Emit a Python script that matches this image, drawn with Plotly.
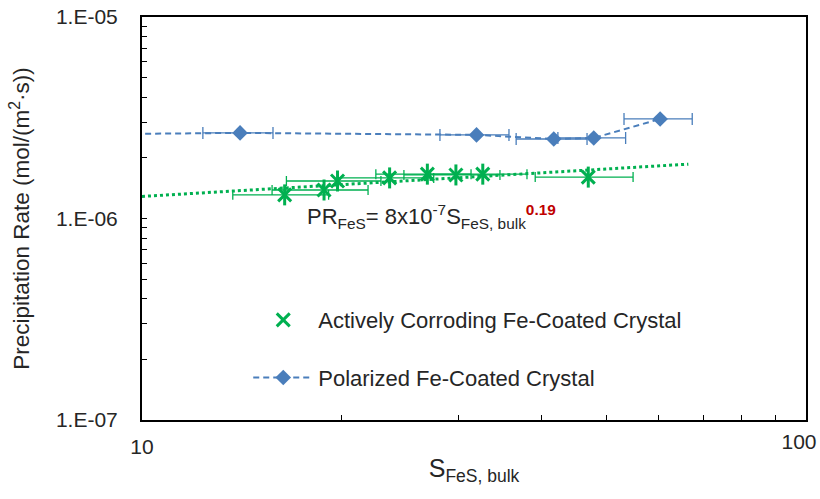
import numpy as np
import plotly.graph_objects as go

# ---- data ----
green_x = [16.4, 18.8, 19.7, 23.6, 26.9, 29.7, 32.6, 47.0]
green_y = [1.31e-6, 1.385e-6, 1.535e-6, 1.59e-6, 1.66e-6, 1.645e-6, 1.66e-6, 1.605e-6]
green_xerr = [2.7, 3.1, 3.2, 3.9, 4.4, 4.9, 5.4, 7.9]

blue_x = [8.5, 14.05, 31.9, 41.7, 47.9, 60.3]
blue_y = [2.62e-6, 2.66e-6, 2.60e-6, 2.48e-6, 2.51e-6, 3.12e-6]
blue_xerr = [1.0, 1.7, 3.8, 5.1, 5.6, 7.1]

trend_range = [10.0, 66.5]

x_tick_vals = [10, 100]
x_tick_text = ["10", "100"]
y_tick_vals = [1e-7, 1e-6, 1e-5]
y_tick_text = ["1.E-07", "1.E-06", "1.E-05"]

green_name = "Actively Corroding Fe-Coated Crystal"
blue_name = "Polarized Fe-Coated Crystal"

GREEN = "#00B050"
BLUE = "#4A7EBB"
FONT = "Liberation Sans, Arial, sans-serif"
TXT = "#262626"

# power-law fit of the green series (log-log least squares)
b, loga = np.polyfit(np.log10(green_x), np.log10(green_y), 1)
tx = np.logspace(np.log10(trend_range[0]), np.log10(trend_range[1]), 60)
ty = 10 ** loga * tx ** b

fig = go.Figure()

# trendline drawn on the overlay x-axis (same range) which carries the right-hand tick label
fig.add_trace(go.Scatter(
    x=tx, y=ty, mode="lines", showlegend=False, hoverinfo="skip", xaxis="x2",
    line=dict(color=GREEN, width=3, dash="dot")))

fig.add_trace(go.Scatter(
    x=blue_x, y=blue_y, mode="lines+markers", name=blue_name, legendgroup="b", legendrank=2,
    line=dict(color=BLUE, width=2, dash="6px,4px"),
    marker=dict(symbol="diamond", size=12, color=BLUE),
    error_x=dict(type="data", array=blue_xerr, color=BLUE, thickness=1.3, width=6)))

fig.add_trace(go.Scatter(
    x=green_x, y=green_y, mode="markers", name=green_name, legendgroup="a", legendrank=1,
    marker=dict(symbol="x-thin-open", size=13, line=dict(color=GREEN, width=3), color=GREEN),
    error_x=dict(type="data", array=green_xerr, color=GREEN, thickness=1.3, width=5)))

fig.add_trace(go.Scatter(
    x=green_x, y=green_y, mode="markers", showlegend=False, hoverinfo="skip",
    marker=dict(symbol="line-ns-open", size=15, color=GREEN, line=dict(color=GREEN, width=3))))

minor_x = [v * 10 for v in range(2, 10)]
minor_y = [v * 1e-7 for v in range(2, 10)] + [v * 1e-6 for v in range(2, 10)]

fig.update_layout(
    xaxis=dict(
        type="log", range=[1, 2], tickvals=x_tick_vals[:1], ticktext=x_tick_text[:1], automargin=False,
        ticks="inside", ticklen=5, tickcolor="black", ticklabelstandoff=7,
        minor=dict(tickvals=minor_x, ticks="inside", ticklen=5, tickcolor="black"),
        showline=True, linecolor="black", linewidth=2, mirror=True, showgrid=False, zeroline=False,
        tickfont=dict(family=FONT, size=21, color=TXT),
        title=dict(text="S<sub>FeS, bulk</sub>", font=dict(family=FONT, size=25, color=TXT), standoff=2)),
    xaxis2=dict(
        type="log", range=[1, 2], overlaying="x", side="bottom", anchor="y", automargin=False,
        tickvals=x_tick_vals[1:], ticktext=x_tick_text[1:], ticks="inside", ticklen=5, tickcolor="black",
        ticklabelstandoff=7, ticklabelshift=-7, showline=False, showgrid=False, zeroline=False,
        tickfont=dict(family=FONT, size=21, color=TXT)),
    yaxis=dict(
        type="log", range=[-7, -5], tickvals=y_tick_vals, ticktext=y_tick_text, automargin=False,
        ticks="inside", ticklen=5, tickcolor="black", ticklabelstandoff=18,
        minor=dict(tickvals=minor_y, ticks="inside", ticklen=5, tickcolor="black"),
        showline=True, linecolor="black", linewidth=2, mirror=True, showgrid=False, zeroline=False,
        tickfont=dict(family=FONT, size=21, color=TXT),
        title=dict(text="Precipitation Rate (mol/(m<sup>2</sup>·s))", font=dict(family=FONT, size=22.5, color=TXT), standoff=20)),
)

fig.add_annotation(
    x=0.245, y=0.505, xref="paper", yref="paper", xanchor="left", yanchor="middle", showarrow=False,
    text="PR<sub>FeS</sub>= 8x10<sup>-7</sup>S<sub>FeS, bulk</sub><sup><b><span style='color:#C00000'>0.19</span></b></sup>",
    font=dict(family=FONT, size=22, color=TXT))

fig.update_layout(
    width=820, height=499, margin=dict(l=142, r=14, t=17, b=79, autoexpand=False),
    paper_bgcolor="white", plot_bgcolor="white",
    legend=dict(x=0.16, y=0.30, xanchor="left", yanchor="top", traceorder="grouped",
                tracegroupgap=26, itemwidth=60, bgcolor="rgba(0,0,0,0)",
                font=dict(family=FONT, size=22, color=TXT)),
)

fig.write_html("out.html")
